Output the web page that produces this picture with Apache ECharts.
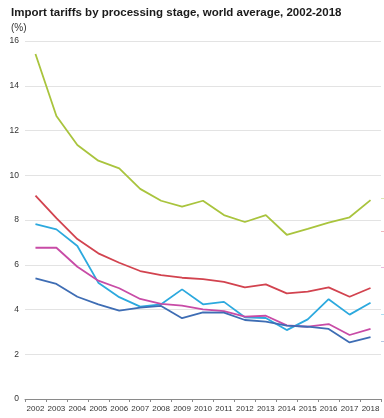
<!DOCTYPE html>
<html>
<head>
<meta charset="utf-8">
<script src="https://cdn.jsdelivr.net/npm/echarts@6/dist/echarts.min.js"></script>
<style>
  html, body { margin: 0; padding: 0; background: #fff; }
  #chart { width: 384px; height: 418px; }
</style>
</head>
<body>
<div id="chart"></div>
<script>
// Years on the category axis
const years = ['2002','2003','2004','2005','2006','2007','2008','2009','2010',
               '2011','2012','2013','2014','2015','2016','2017','2018'];

// Average applied import tariff (%) per processing stage
const consumerGoods     = [15.42, 12.65, 11.35, 10.65, 10.31, 9.39, 8.86, 8.60, 8.86, 8.22, 7.91, 8.22, 7.34, 7.60, 7.88, 8.12, 8.89];
const allProducts       = [9.09, 8.08, 7.15, 6.51, 6.09, 5.72, 5.54, 5.42, 5.36, 5.23, 4.99, 5.12, 4.72, 4.80, 4.99, 4.57, 4.96];
const rawMaterials      = [7.82, 7.58, 6.84, 5.20, 4.55, 4.13, 4.23, 4.90, 4.23, 4.34, 3.65, 3.62, 3.08, 3.56, 4.46, 3.77, 4.30];
const intermediateGoods = [6.76, 6.76, 5.91, 5.29, 4.95, 4.47, 4.25, 4.17, 4.01, 3.93, 3.68, 3.72, 3.29, 3.23, 3.35, 2.86, 3.13];
const capitalGoods      = [5.39, 5.14, 4.57, 4.23, 3.95, 4.08, 4.16, 3.61, 3.87, 3.86, 3.53, 3.46, 3.28, 3.23, 3.13, 2.53, 2.76];

// Value axis ticks
const yMin = 0, yMax = 16, yStep = 2;

const FONT = "'Liberation Sans', Arial, sans-serif";

const seriesDefs = [
  { name: 'Consumer goods',     data: consumerGoods,     color: '#a9c43d' },
  { name: 'All products',       data: allProducts,       color: '#d2434f' },
  { name: 'Raw materials',      data: rawMaterials,      color: '#2ca9de' },
  { name: 'Intermediate goods', data: intermediateGoods, color: '#c84ba6' },
  { name: 'Capital goods',      data: capitalGoods,      color: '#3e6db4' }
];

// Right-hand labels (they run past the edge of the page)
const sideLabelY = [199, 232, 268, 315, 342];
const sideLabelColor = ['#a9c43d', '#d2434f', '#c84ba6', '#2ca9de', '#3e6db4'];

const chart = echarts.init(document.getElementById('chart'), null, { renderer: 'canvas' });

chart.setOption({
  animation: false,
  backgroundColor: '#ffffff',
  textStyle: { fontFamily: FONT },
  title: [
    {
      text: 'Import tariffs by processing stage, world average, 2002-2018',
      left: 6, top: 2,
      textStyle: { fontFamily: FONT, fontSize: 11.5, fontWeight: 'bold', color: '#1a1a1a' }
    },
    {
      text: '(%)',
      left: 6, top: 18,
      textStyle: { fontFamily: FONT, fontSize: 10, fontWeight: 'normal', color: '#333' }
    }
  ],
  graphic: sideLabelY.map((y, i) => ({
    type: 'text',
    left: 381, top: y - 5,
    style: { text: '\u2014 ' + seriesDefs[i].name, fill: sideLabelColor[i], font: '9px ' + FONT, opacity: 0.6 }
  })),
  grid: { left: 25, right: 3, top: 41, bottom: 19, containLabel: false },
  xAxis: {
    type: 'category',
    data: years,
    boundaryGap: true,
    axisLine: { show: true, lineStyle: { color: '#8a8a8a', width: 1 } },
    axisTick: { show: true, alignWithLabel: false, length: 3, lineStyle: { color: '#8a8a8a' } },
    axisLabel: { color: '#333', fontSize: 8, fontFamily: FONT, margin: 6, interval: 0 },
    splitLine: { show: false }
  },
  yAxis: {
    type: 'value',
    min: yMin, max: yMax, interval: yStep,
    axisLine: { show: false },
    axisTick: { show: false },
    axisLabel: { color: '#333', fontSize: 8.5, fontFamily: FONT, margin: 6 },
    splitLine: { show: true, lineStyle: { color: '#e3e3e3', width: 1 } }
  },
  series: seriesDefs.map(s => ({
    name: s.name,
    type: 'line',
    data: s.data,
    symbol: 'none',
    smooth: false,
    lineStyle: { color: s.color, width: 1.8 },
    itemStyle: { color: s.color },
    z: 3
  }))
});
</script>
</body>
</html>
